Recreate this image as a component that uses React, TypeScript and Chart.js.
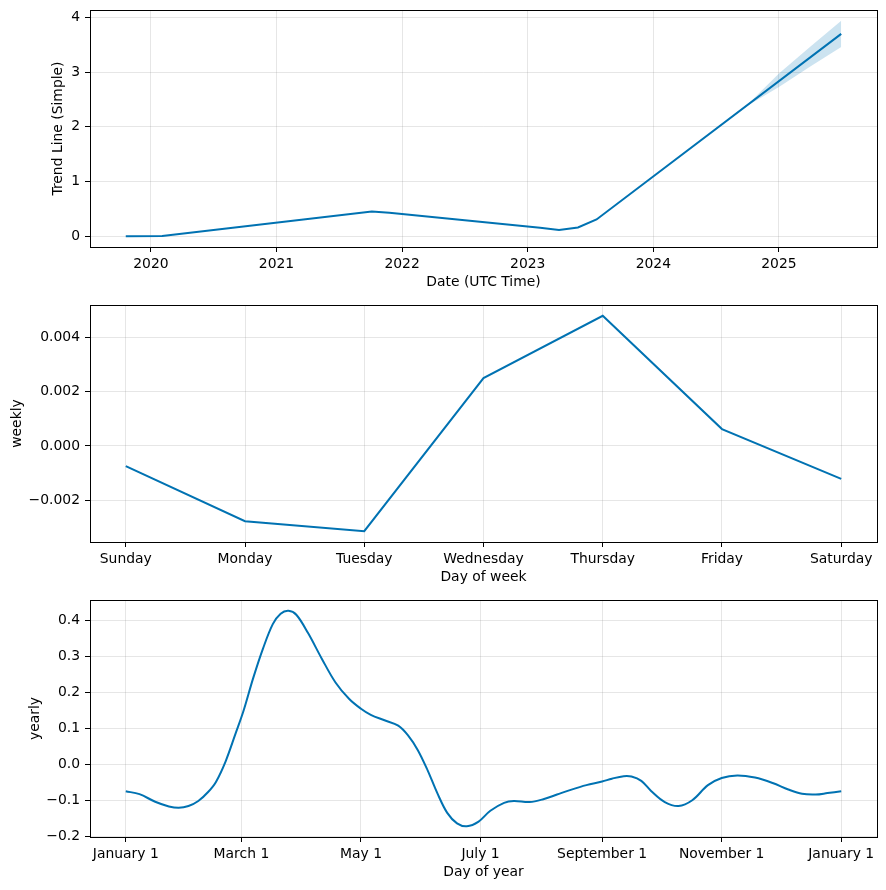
import React, { useEffect, useRef } from "react";
import { Chart, registerables } from "chart.js";

Chart.register(...registerables);

// ---------- Trend panel ----------
const TREND_DATES = [
  "2019-10-20", "2020-02-03", "2021-10-05", "2021-11-25", "2023-02-06",
  "2023-04-02", "2023-05-27", "2023-07-20", "2025-07-01",
];
const TREND_VALUES = [0.0, 0.003, 0.453, 0.428, 0.153, 0.116, 0.159, 0.306, 3.7];
const BAND_DATES = ["2024-07-01", "2024-10-01", "2025-01-01", "2025-04-01", "2025-07-01"];
const BAND_UPPER = [1.96, 2.405, 2.975, 3.46, 3.94];
const BAND_LOWER = [1.95, 2.385, 2.73, 3.1, 3.46];
const TREND_X_TICKS = [2020, 2021, 2022, 2023, 2024, 2025];
const TREND_Y_TICKS = [0, 1, 2, 3, 4];

// ---------- Weekly panel ----------
const WEEKDAYS = ["Sunday", "Monday", "Tuesday", "Wednesday", "Thursday", "Friday", "Saturday"];
const WEEKLY_VALUES = [-0.00074, -0.00276, -0.00313, 0.00249, 0.00478, 0.00062, -0.00121];
const WEEKLY_Y_TICKS = [-0.002, 0, 0.002, 0.004];

// ---------- Yearly panel ----------
const YEARLY_DAYS = [
  0, 7, 15, 22, 27, 32, 37, 42, 46, 51, 56, 60, 65, 70, 75, 79, 83, 87, 93, 100,
  107, 114, 120, 125, 132, 139, 144, 149, 154, 159, 164, 169, 174, 180, 186, 193,
  198, 206, 213, 220, 227, 235, 243, 248, 254, 258, 263, 268, 275, 282, 289, 297, 304,
  312, 321, 330, 338, 345, 352, 358, 365,
];
const YEARLY_VALUES = [
  -0.074, -0.082, -0.103, -0.116, -0.12, -0.115, -0.101, -0.076, -0.048, 0.01, 0.086,
  0.148, 0.24, 0.322, 0.39, 0.419, 0.427, 0.416, 0.365, 0.294, 0.228, 0.182, 0.155,
  0.138, 0.123, 0.108, 0.081, 0.04, -0.016, -0.08, -0.134, -0.163, -0.171, -0.158,
  -0.128, -0.106, -0.101, -0.104, -0.096, -0.083, -0.07, -0.057, -0.047, -0.039,
  -0.032, -0.033, -0.045, -0.073, -0.104, -0.115, -0.099, -0.057, -0.037, -0.03, -0.036,
  -0.051, -0.069, -0.081, -0.083, -0.079, -0.074,
];
const YEARLY_X_TICKS = [0, 59, 120, 181, 243, 304, 365];
const YEARLY_X_LABELS = ["January 1", "March 1", "May 1", "July 1", "September 1", "November 1", "January 1"];
const YEARLY_Y_TICKS = [-0.2, -0.1, 0, 0.1, 0.2, 0.3, 0.4];

// ---------- helpers ----------
const LINE_COLOR = "#0072B2";
const GRID_COLOR = "rgba(128,128,128,0.2)";
const FONT = { family: "'DejaVu Sans', sans-serif", size: 13.9 };

function toYear(s: string): number {
  const t = Date.parse(s + "T00:00:00Z");
  const y = new Date(t).getUTCFullYear();
  const a = Date.UTC(y, 0, 1);
  const b = Date.UTC(y + 1, 0, 1);
  return y + (t - a) / (b - a);
}

function padRange(vals: number[]): [number, number] {
  const mn = Math.min(...vals);
  const mx = Math.max(...vals);
  const r = mx - mn;
  return [mn - 0.05 * r, mx + 0.05 * r];
}

const minus = (s: string) => s.replace("-", "\u2212");

const framePlugin = {
  id: "frame",
  afterDraw(chart: any) {
    const { ctx, chartArea } = chart;
    const { left, top, right, bottom } = chartArea;
    ctx.save();
    ctx.strokeStyle = "#000";
    ctx.lineWidth = 1;
    ctx.strokeRect(Math.round(left) + 0.5, Math.round(top) + 0.5, Math.round(right - left), Math.round(bottom - top));
    ctx.restore();
  },
};

function baseOptions(o: {
  xr: [number, number];
  yr: [number, number];
  xTicks: number[];
  yTicks: number[];
  xFmt: (v: number) => string;
  yFmt: (v: number) => string;
  xTitle: string;
  yTitle: string;
  yTitlePad: number;
}) {
  return {
    responsive: false,
    animation: false,
    layout: { padding: { top: 10, right: 9, left: 0, bottom: 0 } },
    plugins: { legend: { display: false }, tooltip: { enabled: false } },
    elements: { point: { radius: 0 } },
    scales: {
      x: {
        type: "linear",
        min: o.xr[0],
        max: o.xr[1],
        afterBuildTicks: (s: any) => {
          s.ticks = o.xTicks.map((v) => ({ value: v }));
        },
        afterFit: (s: any) => {
          s.height = 50;
          s.paddingLeft = 0;
          s.paddingRight = 0;
        },
        ticks: {
          callback: (v: any) => o.xFmt(Number(v)),
          color: "#000",
          padding: 4,
          maxRotation: 0,
          autoSkip: false,
          font: FONT,
        },
        grid: { color: GRID_COLOR, lineWidth: 1, tickColor: "#000", tickLength: 5, drawTicks: true },
        border: { display: false },
        title: { display: true, text: o.xTitle, color: "#000", font: FONT, padding: { top: 0, bottom: 6.2 } },
      },
      y: {
        type: "linear",
        min: o.yr[0],
        max: o.yr[1],
        afterBuildTicks: (s: any) => {
          s.ticks = o.yTicks.map((v) => ({ value: v }));
        },
        afterFit: (s: any) => {
          s.width = 90;
          s.paddingTop = 0;
          s.paddingBottom = 0;
        },
        ticks: {
          callback: (v: any) => o.yFmt(Number(v)),
          color: "#000",
          padding: 5,
          autoSkip: false,
          font: FONT,
        },
        grid: { color: GRID_COLOR, lineWidth: 1, tickColor: "#000", tickLength: 5, drawTicks: true },
        border: { display: false },
        title: { display: true, text: o.yTitle, color: "#000", font: FONT, padding: { top: o.yTitlePad, bottom: 0 } },
      },
    },
  };
}

function buildTrend(): any {
  const tx = TREND_DATES.map(toYear);
  const bx = BAND_DATES.map(toYear);
  const xr = padRange(tx);
  const yr = padRange([...TREND_VALUES, ...BAND_UPPER, ...BAND_LOWER]);
  return {
    type: "line",
    data: {
      datasets: [
        {
          data: bx.map((x, i) => ({ x, y: BAND_LOWER[i] })),
          borderWidth: 0,
          pointRadius: 0,
          fill: false,
        },
        {
          data: bx.map((x, i) => ({ x, y: BAND_UPPER[i] })),
          borderWidth: 0,
          pointRadius: 0,
          fill: "-1",
          backgroundColor: "rgba(0,114,178,0.2)",
        },
        {
          data: tx.map((x, i) => ({ x, y: TREND_VALUES[i] })),
          borderColor: LINE_COLOR,
          borderWidth: 2,
          pointRadius: 0,
          tension: 0,
          fill: false,
        },
      ],
    },
    options: baseOptions({
      xr,
      yr,
      xTicks: TREND_X_TICKS,
      yTicks: TREND_Y_TICKS,
      xFmt: (v) => String(v),
      yFmt: (v) => String(v),
      xTitle: "Date (UTC Time)",
      yTitle: "Trend Line (Simple)",
      yTitlePad: 49.7,
    }),
    plugins: [framePlugin],
  };
}

function buildWeekly(): any {
  const xs = WEEKDAYS.map((_, i) => i);
  const xr = padRange(xs);
  const yr = padRange(WEEKLY_VALUES);
  return {
    type: "line",
    data: {
      datasets: [
        {
          data: xs.map((x, i) => ({ x, y: WEEKLY_VALUES[i] })),
          borderColor: LINE_COLOR,
          borderWidth: 2,
          pointRadius: 0,
          tension: 0,
          fill: false,
        },
      ],
    },
    options: baseOptions({
      xr,
      yr,
      xTicks: xs,
      yTicks: WEEKLY_Y_TICKS,
      xFmt: (v) => WEEKDAYS[Math.round(v)] ?? "",
      yFmt: (v) => minus(v.toFixed(3)),
      xTitle: "Day of week",
      yTitle: "weekly",
      yTitlePad: 8.7,
    }),
    plugins: [framePlugin],
  };
}

function buildYearly(): any {
  const xr = padRange(YEARLY_DAYS);
  const yr = padRange(YEARLY_VALUES);
  return {
    type: "line",
    data: {
      datasets: [
        {
          data: YEARLY_DAYS.map((x, i) => ({ x, y: YEARLY_VALUES[i] })),
          borderColor: LINE_COLOR,
          borderWidth: 2,
          pointRadius: 0,
          tension: 0.35,
          fill: false,
        },
      ],
    },
    options: baseOptions({
      xr,
      yr,
      xTicks: YEARLY_X_TICKS,
      yTicks: YEARLY_Y_TICKS,
      xFmt: (v) => YEARLY_X_LABELS[YEARLY_X_TICKS.indexOf(v)] ?? "",
      yFmt: (v) => minus((Math.abs(v) < 1e-9 ? 0 : v).toFixed(1)),
      xTitle: "Day of year",
      yTitle: "yearly",
      yTitlePad: 26.7,
    }),
    plugins: [framePlugin],
  };
}

function Panel({ top, build }: { top: number; build: () => any }) {
  const ref = useRef<HTMLCanvasElement | null>(null);
  useEffect(() => {
    if (!ref.current) return;
    const chart = new Chart(ref.current, build());
    return () => chart.destroy();
  }, []);
  return (
    <div style={{ position: "absolute", left: 0, top, width: 886, height: 297 }}>
      <canvas ref={ref} width={886} height={297} style={{ display: "block", width: 886, height: 297 }} />
    </div>
  );
}

export default function App() {
  return (
    <div style={{ position: "absolute", left: 0, top: 0, width: 886, height: 890, background: "#fff" }}>
      <Panel top={0} build={buildTrend} />
      <Panel top={295} build={buildWeekly} />
      <Panel top={590} build={buildYearly} />
    </div>
  );
}
